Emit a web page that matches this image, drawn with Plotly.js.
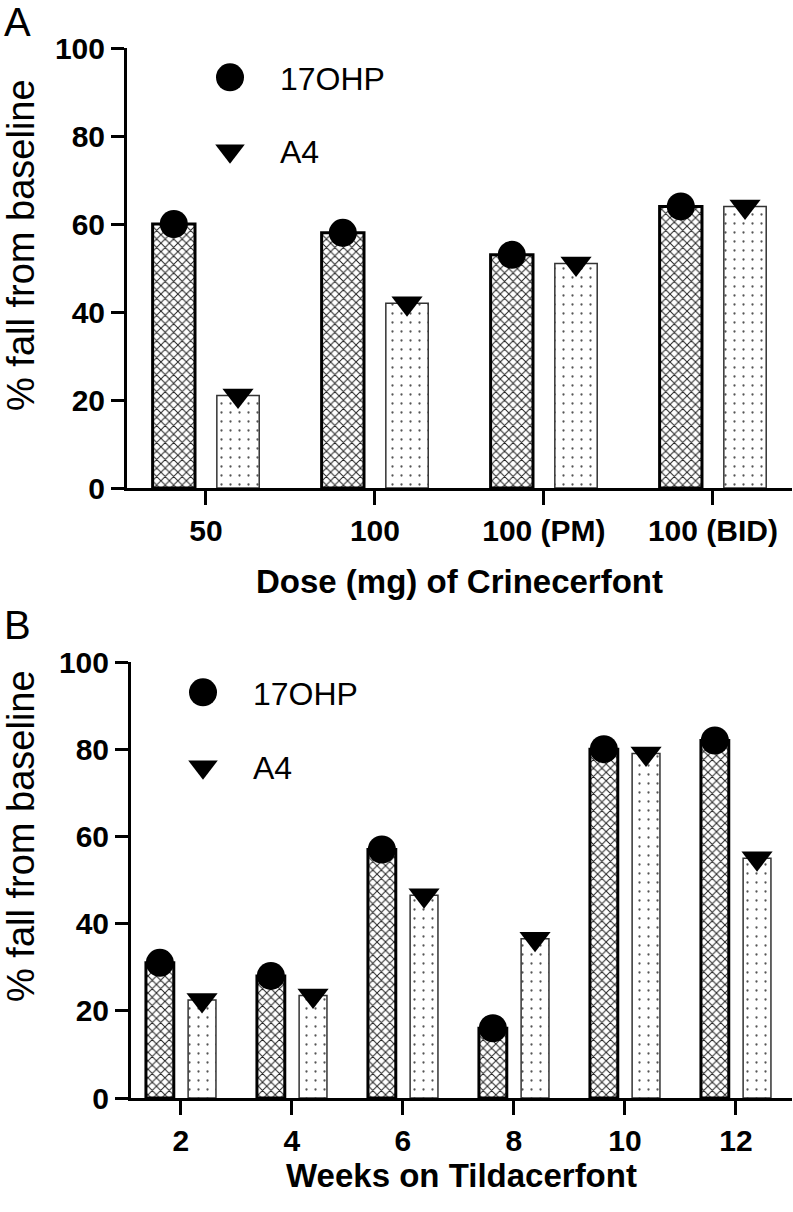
<!DOCTYPE html>
<html>
<head>
<meta charset="utf-8">
<script src="https://cdn.plot.ly/plotly-3.0.1.min.js"></script>
<style>
  html, body { margin: 0; padding: 0; background: #fff; }
  #chart { width: 793px; height: 1212px; }
</style>
</head>
<body>
<div id="chart"></div>
<script>
// ---- Data ----
const doseCategories = ['50', '100', '100 (PM)', '100 (BID)'];
const dose17OHP = [60, 58, 53, 64];
const doseA4 = [21, 42, 51, 64];

const weekCategories = ['2', '4', '6', '8', '10', '12'];
const week17OHP = [31, 28, 57, 16, 80, 82];
const weekA4 = [22.5, 23.5, 46.5, 36.5, 79, 55];

const seriesNames = ['17OHP', 'A4'];
const yTickVals = [0, 20, 40, 60, 80, 100];
const yTitle = '% fall from baseline';

// ---- Styles ----
const FONT = 'Liberation Sans, Arial, Helvetica, sans-serif';
const W = 793, H = 1212;

const barOHP = {
  color: 'white',
  line: { color: '#000', width: 3 },
  pattern: { shape: 'x', size: 6, solidity: 0.3, fgcolor: '#222', bgcolor: 'white', fillmode: 'replace' }
};
const barA4 = {
  color: 'white',
  line: { color: '#333', width: 1.5 },
  pattern: { shape: '.', size: 9, solidity: 0.05, fgcolor: '#555', bgcolor: 'white', fillmode: 'replace' }
};

function barTrace(cats, vals, name, marker, xa, ya, grp) {
  return { type: 'bar', x: cats, y: vals, name: name, marker: marker,
           xaxis: xa, yaxis: ya, offsetgroup: grp, showlegend: false, hoverinfo: 'x+y' };
}
function ptTrace(cats, vals, name, symbol, size, xa, ya, grp, legend) {
  return { type: 'scatter', mode: 'markers', x: cats, y: vals, name: name,
           marker: { symbol: symbol, size: size, color: '#000', line: { width: 0 } },
           xaxis: xa, yaxis: ya, offsetgroup: grp, orientation: 'v', cliponaxis: false,
           legend: legend, legendgroup: legend + name, showlegend: true };
}

const traces = [
  barTrace(doseCategories, dose17OHP, seriesNames[0], barOHP, 'x', 'y', 'g1'),
  barTrace(doseCategories, doseA4, seriesNames[1], barA4, 'x', 'y', 'g2'),
  ptTrace(doseCategories, dose17OHP, seriesNames[0], 'circle', 28, 'x', 'y', 'g1', 'legend'),
  ptTrace(doseCategories, doseA4, seriesNames[1], 'triangle-down', 27, 'x', 'y', 'g2', 'legend'),
  barTrace(weekCategories, week17OHP, seriesNames[0], barOHP, 'x2', 'y2', 'g1'),
  barTrace(weekCategories, weekA4, seriesNames[1], barA4, 'x2', 'y2', 'g2'),
  ptTrace(weekCategories, week17OHP, seriesNames[0], 'circle', 28, 'x2', 'y2', 'g1', 'legend2'),
  ptTrace(weekCategories, weekA4, seriesNames[1], 'triangle-down', 27, 'x2', 'y2', 'g2', 'legend2')
];

function yAxis(domTopPx, domBotPx, anchor) {
  return {
    domain: [1 - domBotPx / H, 1 - domTopPx / H],
    anchor: anchor,
    range: [0, 100],
    tickvals: yTickVals,
    ticks: 'outside', ticklen: 13, tickwidth: 3, tickcolor: '#000',
    showline: true, linewidth: 3, linecolor: '#000',
    showgrid: false, zeroline: false,
    tickfont: { family: FONT, size: 30, color: '#000', weight: 'bold' },
    automargin: false, fixedrange: true
  };
}
function xAxis(leftPx, rightPx, range, anchor, title, standoff) {
  return {
    type: 'category',
    domain: [leftPx / W, rightPx / W],
    anchor: anchor,
    range: range,
    ticks: 'outside', ticklen: 14, tickwidth: 3, tickcolor: '#000',
    showline: true, linewidth: 3, linecolor: '#000',
    showgrid: false, zeroline: false,
    tickfont: { family: FONT, size: 30, color: '#000', weight: 'bold' },
    title: { text: title, font: { family: FONT, size: 33, color: '#000', weight: 'bold' }, standoff: standoff },
    automargin: false, fixedrange: true
  };
}

const legendFont = { family: FONT, size: 32, color: '#000' };

function textNote(text, xPx, yPx, size, angle) {
  return { text: text, xref: 'paper', yref: 'paper', x: xPx / W, y: 1 - yPx / H,
           xanchor: 'center', yanchor: 'middle', showarrow: false, textangle: angle || 0,
           font: { family: FONT, size: size, color: '#000' } };
}

const layout = {
  width: W, height: H,
  margin: { l: 0, r: 0, t: 0, b: 0 },
  paper_bgcolor: '#fff', plot_bgcolor: '#fff',
  font: { family: FONT, color: '#000' },
  barmode: 'group', bargap: 0.24, bargroupgap: 0.34,
  scattermode: 'group', scattergap: 0.24,
  xaxis: xAxis(127, 792, [-0.467, 3.468], 'y', 'Dose (mg) of Crinecerfont', 24),
  yaxis: yAxis(48, 488, 'x'),
  xaxis2: xAxis(131, 792, [-0.45, 5.505], 'y2', 'Weeks on Tildacerfont', 2),
  yaxis2: yAxis(662, 1098, 'x2'),
  legend: { x: 180 / W, y: 1 - 50 / H, xanchor: 'left', yanchor: 'top',
            font: legendFont, bgcolor: 'rgba(0,0,0,0)', borderwidth: 0,
            tracegroupgap: 29, itemwidth: 90, traceorder: 'grouped' },
  legend2: { x: 153 / W, y: 1 - 665 / H, xanchor: 'left', yanchor: 'top',
            font: legendFont, bgcolor: 'rgba(0,0,0,0)', borderwidth: 0,
            tracegroupgap: 30, itemwidth: 90, traceorder: 'grouped' },
  annotations: [
    textNote('A', 17, 22, 40),
    textNote('B', 17, 625, 40),
    textNote(yTitle, 21, 245, 38, -90),
    textNote(yTitle, 21, 836, 38, -90)
  ],
  showlegend: true
};

function enlargeLegendSymbols() {
  document.querySelectorAll('.infolayer .scatterpts').forEach(function (p) {
    if (p.getAttribute('data-scaled')) return;
    var d = p.getAttribute('d') || '';
    var s = d.indexOf('A') >= 0 ? 1.75 : 1.6;
    var t = p.getAttribute('transform') || '';
    p.setAttribute('transform', t + ' scale(' + s + ')');
    p.setAttribute('data-scaled', '1');
  });
}

Plotly.newPlot('chart', traces, layout, { displayModeBar: false, staticPlot: true }).then(function (gd) {
  enlargeLegendSymbols();
  gd.on && gd.on('plotly_afterplot', enlargeLegendSymbols);
});
</script>
</body>
</html>
